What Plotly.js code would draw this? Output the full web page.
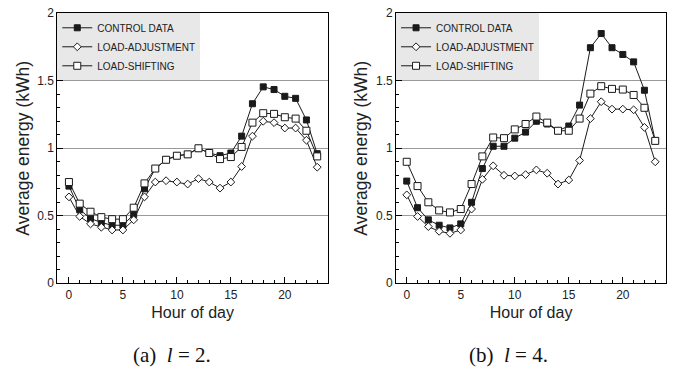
<!DOCTYPE html>
<html>
<head>
<meta charset="utf-8">
<script src="https://cdn.plot.ly/plotly-3.0.1.min.js"></script>
<style>html,body{margin:0;padding:0;background:#fff;}#chart{width:677px;height:371px;}</style>
</head>
<body>
<div id="chart"></div>
<script>
// ---- data ----
const hours = [0,1,2,3,4,5,6,7,8,9,10,11,12,13,14,15,16,17,18,19,20,21,22,23];
const seriesNames = ['CONTROL DATA', 'LOAD-ADJUSTMENT', 'LOAD-SHIFTING'];
// (a) l = 2
const controlL2 = [0.72,0.545,0.48,0.45,0.43,0.43,0.51,0.70,0.85,0.915,0.945,0.955,1.0,0.965,0.945,0.965,1.09,1.33,1.455,1.435,1.385,1.37,1.21,0.96];
const adjustL2  = [0.64,0.495,0.44,0.415,0.395,0.395,0.47,0.64,0.75,0.76,0.75,0.735,0.775,0.75,0.705,0.75,0.865,1.09,1.20,1.19,1.15,1.15,1.06,0.86];
const shiftL2   = [0.75,0.59,0.53,0.49,0.475,0.475,0.56,0.74,0.85,0.915,0.945,0.955,1.0,0.965,0.92,0.935,1.01,1.19,1.26,1.255,1.23,1.22,1.13,0.94];
// (b) l = 4
const controlL4 = [0.757,0.56,0.47,0.43,0.41,0.44,0.60,0.85,1.015,1.015,1.075,1.12,1.20,1.18,1.13,1.165,1.32,1.745,1.85,1.745,1.695,1.64,1.43,1.055];
const adjustL4  = [0.655,0.495,0.42,0.385,0.37,0.395,0.55,0.77,0.87,0.80,0.795,0.805,0.84,0.815,0.735,0.765,0.91,1.22,1.345,1.29,1.29,1.285,1.155,0.90];
const shiftL4   = [0.90,0.72,0.60,0.54,0.525,0.55,0.735,0.94,1.08,1.075,1.14,1.18,1.235,1.19,1.13,1.13,1.22,1.405,1.46,1.44,1.435,1.395,1.30,1.055];
const xTickVals = [0,5,10,15,20];
const yTickVals = [0,0.5,1,1.5,2];
const yTickText = ['0','0.5','1','1.5','2'];
const captions = ['(a)&nbsp;&nbsp;<i>l</i>&nbsp;=&nbsp;2.', '(b)&nbsp;&nbsp;<i>l</i>&nbsp;=&nbsp;4.'];
const xTitle = 'Hour of day';
const yTitle = 'Average energy (kWh)';

// ---- styling ----
const SANS = 'Liberation Sans, Arial, sans-serif';
const SERIF = 'Liberation Serif, Times New Roman, serif';
const LINE = '#1a1a1a';
const markerStyles = [
  {symbol:'square', size:6, color:LINE, line:{color:LINE, width:1}},
  {symbol:'diamond', size:6, color:'#ffffff', line:{color:LINE, width:1}},
  {symbol:'square', size:7, color:'#ffffff', line:{color:LINE, width:1}}
];

function mk(y, idx, xa, ya, lg) {
  return {
    x: hours, y: y, type:'scatter', mode:'lines+markers',
    name: seriesNames[idx], xaxis: xa, yaxis: ya, legend: lg,
    line:{color:LINE, width:1}, marker: markerStyles[idx], cliponaxis:false
  };
}
const traces = [
  mk(controlL2,0,'x','y','legend'), mk(adjustL2,1,'x','y','legend'), mk(shiftL2,2,'x','y','legend'),
  mk(controlL4,0,'x2','y2','legend2'), mk(adjustL4,1,'x2','y2','legend2'), mk(shiftL4,2,'x2','y2','legend2')
];

function xax(domain, range, anchor) {
  return {
    domain: domain, range: range, anchor: anchor, automargin:false,
    tickmode:'array', tickvals: xTickVals, ticks:'inside', ticklen:6, tickcolor:'#000',
    minor:{dtick:1, tick0:0, ticks:'inside', ticklen:3, tickcolor:'#000', showgrid:false},
    showline:true, linecolor:'#000', linewidth:1, mirror:true,
    showgrid:false, zeroline:false,
    tickfont:{family:SANS, size:12, color:'#222'},
    title:{text:xTitle, font:{family:SANS, size:16, color:'#222'}, standoff:6}
  };
}
function yax(anchor) {
  return {
    domain:[0.2364, 0.9642], range:[0,2], anchor: anchor, automargin:false,
    tickmode:'array', tickvals: yTickVals, ticktext: yTickText, ticks:'inside', ticklen:6, tickcolor:'#000',
    minor:{dtick:0.1, tick0:0, ticks:'inside', ticklen:3, tickcolor:'#000', showgrid:false},
    showline:true, linecolor:'#000', linewidth:1, mirror:true,
    showgrid:true, gridcolor:'#9a9a9a', gridwidth:1, zeroline:false,
    tickfont:{family:SANS, size:12, color:'#222'},
    title:{text:yTitle, font:{family:SANS, size:17.5, color:'#222'}, standoff:3}
  };
}
function leg(x) {
  return {x:x, y:0.9642, xanchor:'left', yanchor:'top', bgcolor:'#e8e8e8', borderwidth:0,
    font:{family:SANS, size:10, color:'#222'}, tracegroupgap:0, itemwidth:30};
}

const layout = {
  width:677, height:371, margin:{l:0,r:0,t:0,b:0},
  paper_bgcolor:'#fff', plot_bgcolor:'#fff', showlegend:true,
  xaxis: xax([0.0846,0.4845], [-1.08,24], 'y'),
  yaxis: yax('x'),
  xaxis2: xax([0.585,0.9838], [-0.99,24], 'y2'),
  yaxis2: yax('x2'),
  legend: leg(0.0846),
  legend2: leg(0.585),
  annotations: [
    {text:captions[0], xref:'paper', yref:'paper', x:171.5/677, y:1-355/371, showarrow:false, xanchor:'center', yanchor:'middle', font:{family:SERIF, size:21, color:'#111'}},
    {text:captions[1], xref:'paper', yref:'paper', x:508/677, y:1-355/371, showarrow:false, xanchor:'center', yanchor:'middle', font:{family:SERIF, size:21, color:'#111'}}
  ]
};
Plotly.newPlot('chart', traces, layout, {staticPlot:true, displayModeBar:false});
</script>
</body>
</html>
